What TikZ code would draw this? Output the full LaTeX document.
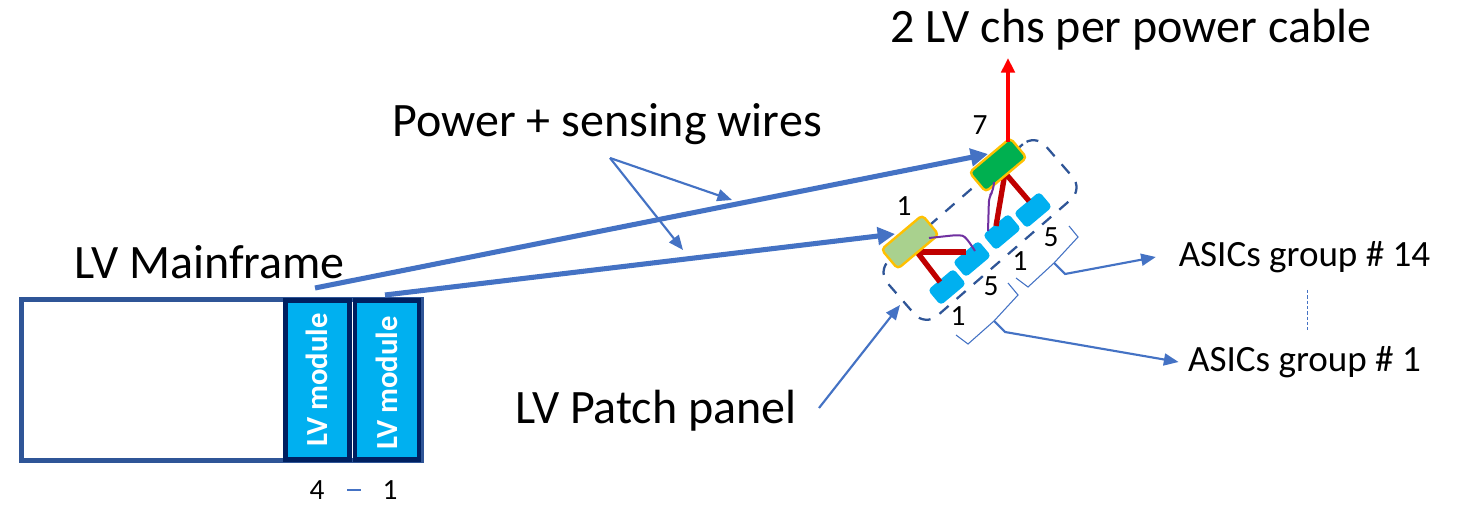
\documentclass[tikz,border=0pt]{standalone}
\usepackage{fontspec}
\setmainfont{Carlito}
\usetikzlibrary{arrows.meta}
\definecolor{lnblue}{HTML}{4472C4}
\definecolor{frameblue}{HTML}{2F5597}
\definecolor{navy}{HTML}{002060}
\definecolor{cyanb}{HTML}{00B0F0}
\definecolor{darkred}{HTML}{C00000}
\definecolor{purp}{HTML}{7030A0}
\definecolor{gold}{HTML}{FFC000}
\definecolor{lightg}{HTML}{A9D18E}
\definecolor{darkg}{HTML}{00B050}
\tikzset{
  px/.style={x=0.75pt,y=-0.75pt},
  big/.style={inner sep=0pt,font=\fontsize{36}{42}\selectfont,text=black},
  mid/.style={inner sep=0pt,font=\fontsize{27.8}{32}\selectfont,text=black},
  num/.style={inner sep=0pt,font=\fontsize{22}{26}\selectfont,text=black},
  lvmod/.style={draw=navy,line width=3.6pt,fill=cyanb,minimum width=48pt,minimum height=119pt,inner sep=0pt},
  lvtext/.style={rotate=90,inner sep=0pt,text=white,font=\fontsize{23}{28}\selectfont\bfseries},
  asic/.style={fill=cyanb,rounded corners=3pt,minimum width=25pt,minimum height=15pt,inner sep=0pt,rotate=40},
  pp/.style={draw=gold,line width=1.8pt,rounded corners=3pt,minimum width=40pt,minimum height=19pt,inner sep=0pt,rotate=40},
  thick wire/.style={darkred,line width=4pt},
  thin wire/.style={purp,line width=1.5pt,rounded corners=4pt},
  power/.style={lnblue,line width=3.8pt,-{Triangle[length=13pt,width=13pt]}},
  pointer/.style={lnblue,line width=1.6pt,-{Triangle[length=11pt,width=9pt]}},
  bracket/.style={lnblue,line width=0.8pt},
}
\begin{document}
\begin{tikzpicture}[px]
\useasboundingbox (0,0) rectangle (1458,505);
\fill[white] (0,0) rectangle (1458,505);
% mainframe
\node[draw=frameblue,line width=4pt,minimum width=300pt,minimum height=121pt,inner sep=0pt] (frame) at (221.5,380) {};
\node[lvmod] (mod4) at (317.5,380) {};
\node[lvmod] (mod1) at (387,380) {};
\node[lvtext] (t4) at (317,380) {LV module};
\node[lvtext] (t1) at (387,383) {LV module};
\node[big] (mf) at (209.5,262) {LV Mainframe};
\node[num] (n4) at (317,490) {4};
\node[num] (n1) at (390,490) {1};
\draw[lnblue,line width=0.8pt] ([xshift=17pt]n4.east) -- ([xshift=-16pt]n1.west);
% patch panel
\node[draw=frameblue,line width=1.7pt,dash pattern=on 9pt off 8pt,rounded corners=12pt,minimum width=157pt,minimum height=55pt,rotate=41,inner sep=0pt] (panel) at (980,230) {};
% asics
\node[asic] (a1) at (947,287) {};
\node[asic] (a2) at (972,259) {};
\node[asic] (a3) at (1002,232) {};
\node[asic] (a4) at (1033,210) {};
% wires
\coordinate (lgw) at (917,252);
\coordinate (dgw) at (1005,173);
\draw[thick wire] (lgw) -- (940,282);
\draw[thick wire] (lgw) -- (966,252);
\draw[thick wire] (dgw) -- (996,226);
\draw[thick wire] (dgw) -- (1029,201);
\node[pp,fill=lightg] (lg) at (910,242) {};
\node[pp,fill=darkg] (dg) at (998,165) {};
\draw[thin wire] (929,238) -- (957,235) .. controls (965,236) and (970,243) .. (975,251);
\draw[thin wire] (994,182) -- (993,191) -- (989,197) -- (988,231);
% red arrow
\coordinate (rtop) at (1008,58);
\draw[red,line width=3.6pt,-{Triangle[length=11pt,width=10pt]}] (1008,142) -- (rtop);
% labels
\node[big] (cap) at (1131,30) {2 LV chs per power cable};
\node[big] (psw) at (607,124) {Power + sensing wires};
\node[big] (lpp) at (656,411) {LV Patch panel};
\node[mid] (g14) at (1304.5,257) {ASICs group \# 14};
\node[mid] (g1) at (1304.5,362) {ASICs group \# 1};
\node[num] (s7) at (980,125) {7};
\node[num] (s1a) at (904,206) {1};
\node[num] (s1b) at (958,316) {1};
\node[num] (s5a) at (991,286) {5};
\node[num] (s1c) at (1020,261) {1};
\node[num] (s5b) at (1051,237) {5};
% power
\coordinate (p4) at (315,288);
\coordinate (p1) at (385,295);
\coordinate (dgin) at (988,154);
\coordinate (lgin) at (895,234);
\draw[power] (p4) -- (dgin);
\draw[power] (p1) -- (lgin);
% pointers
\coordinate (src) at (610,158);
\draw[pointer] (src) -- (732,200);
\draw[pointer] (src) -- (683,250);
\draw[pointer] (819,408) -- (900,305);
% brackets
\draw[bracket] (956,335) -- (968,344) -- (994,321) -- (1018,295) -- (1008,283);
\draw[bracket] (1016,278) -- (1028,287) -- (1054,263) -- (1078,237) -- (1069,226);
\draw[pointer] (994,321) -- (1005,332) -- ([xshift=-7pt]g1.west);
\draw[pointer] (1054,263) -- (1065,274) -- ([xshift=-17pt]g14.west);
\draw[lnblue,line width=0.7pt,dash pattern=on 2.5pt off 1.5pt] (1307,290) -- (1307,330);
\end{tikzpicture}
\end{document}
